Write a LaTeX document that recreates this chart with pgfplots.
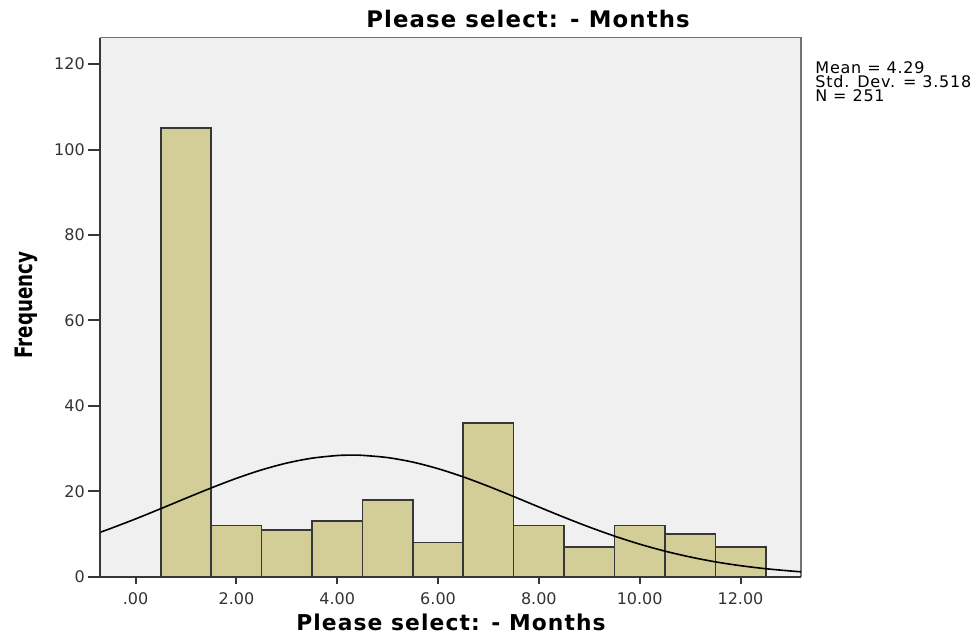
\documentclass[border=0pt]{standalone}
\usepackage{pgfplots}
\pgfplotsset{compat=1.18}
\usepackage{graphicx}
\usepackage{fontspec}
\setmainfont{DejaVu Sans}
\newfontfamily\spaced{DejaVu Sans}[LetterSpace=5.0]
\definecolor{barfill}{RGB}{211,206,151}
\definecolor{plotbg}{RGB}{240,240,240}
\definecolor{framec}{RGB}{55,55,55}
\begin{document}
\begin{tikzpicture}
\path[use as bounding box] (0,0) rectangle (490pt,319pt);
\begin{axis}[
  name=ax,
  at={(50.15pt,30.65pt)}, anchor=south west,
  scale only axis, width=350.35pt, height=269.5pt,
  xmin=-0.7, xmax=13.2, ymin=0, ymax=126.2,
  axis background/.style={fill=plotbg},
  axis line style={draw=black!55, line width=0.6pt},
  tick align=outside, tick pos=left,
  xtick={0,2,...,12},
  xticklabels={.00,2.00,4.00,6.00,8.00,10.00,12.00},
  ytick={0,20,...,120},
  tick style={draw=framec, line width=1pt},
  ytick style={/pgfplots/major tick length=6pt},
  xtick style={/pgfplots/major tick length=3.5pt},
  ticklabel style={font=\fontsize{8}{9}\selectfont, text=black!80},
  /pgf/number format/assume math mode=true,
]
% histogram bars, bins of width 1
\addplot[ybar, bar width=1, bar shift=0pt, fill=barfill, draw=framec, line width=0.8pt]
  coordinates {(1,105) (2,12) (3,11) (4,13) (5,18) (6,8) (7,36) (8,12) (9,7) (10,12) (11,10) (12,7)};
% normal curve
\addplot[black, line width=0.8pt, smooth, no marks] coordinates {
  (-0.7,10.41) (-0.5,11.27) (0,13.53) (0.5,15.93) (1,18.38) (1.5,20.78) (2,23.03)
  (2.5,25.01) (3,26.61) (3.5,27.75) (4,28.37) (4.29,28.46) (4.5,28.41) (5,27.89)
  (5.5,26.83) (6,25.29) (6.5,23.37) (7,21.16) (7.5,18.77) (8,16.32) (8.5,13.91)
  (9,11.62) (9.5,9.51) (10,7.62) (10.5,5.99) (11,4.62) (11.5,3.48) (12,2.58)
  (12.5,1.87) (13,1.33) (13.2,1.15)};
\end{axis}
\draw[framec, line width=1pt] (ax.north west) -- (ax.south west) -- (ax.south east);
\node[anchor=base, font=\spaced\bfseries\fontsize{11.4}{13}\selectfont] at (264pt,305pt) {Please select: - Months};
\node[anchor=base, font=\spaced\bfseries\fontsize{10.9}{13}\selectfont] at (225.5pt,4pt) {Please select: - Months};
\node[rotate=90, anchor=base, font=\bfseries\fontsize{12}{14}\selectfont] at (16.5pt,166.5pt) {\scalebox{0.76}[1]{Frequency}};
\node[anchor=base west, inner sep=0pt, font=\spaced\fontsize{8}{9}\selectfont] at (407.5pt,282pt) {Mean = 4.29};
\node[anchor=base west, inner sep=0pt, font=\spaced\fontsize{8}{9}\selectfont] at (407.5pt,275pt) {Std. Dev. = 3.518};
\node[anchor=base west, inner sep=0pt, font=\spaced\fontsize{8}{9}\selectfont] at (407.5pt,268pt) {N = 251};
\end{tikzpicture}
\end{document}
